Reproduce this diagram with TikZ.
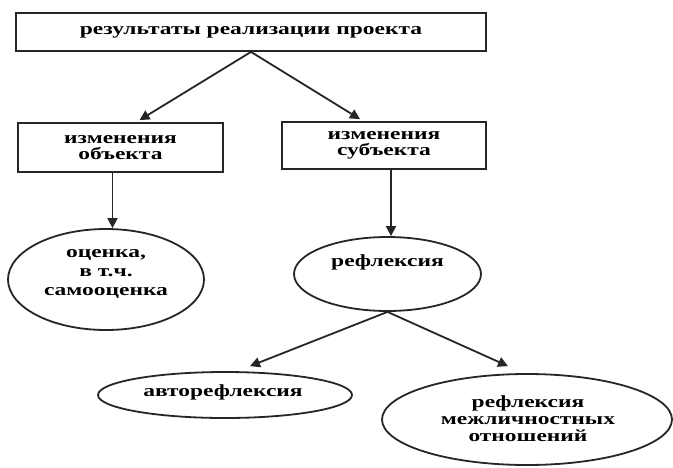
\documentclass[tikz,border=0pt]{standalone}
\usepackage{fontspec}
\setmainfont{Liberation Serif}[FakeStretch=1.38]
\usetikzlibrary{shapes.geometric,arrows.meta}
\begin{document}
\begin{tikzpicture}[x=1pt,y=-1pt,
  line/.style={draw=black!85,line width=1.8pt},
  arr/.style={line,-{Triangle[length=10pt,width=10pt]}},
  box/.style={line,rectangle,inner sep=0pt,align=center,
    font=\bfseries\fontsize{17}{16.5}\selectfont},
  oval/.style={line,ellipse,inner sep=0pt},
  txt/.style={inner sep=0pt,align=center,font=\bfseries\fontsize{17}{19}\selectfont}]
\useasboundingbox[fill=white] (0,0) rectangle (673,467);

% boxes
\node[box,minimum width=470pt,minimum height=38pt] (top) at (251,32) {результаты реализации проекта};
\node[box,minimum width=205pt,minimum height=49pt] (lbox) at (120.5,147.5) {изменения\\объекта};
\node[box,minimum width=204pt,minimum height=47pt] (rbox) at (384,145.5) {изменения\\субъекта};

% ellipses
\node[oval,minimum width=196pt,minimum height=101pt] (ocen) at (106,279.5) {};
\node[oval,minimum width=187pt,minimum height=74pt] (refl) at (387.5,274) {};
\node[oval,minimum width=254pt,minimum height=46pt] (avto) at (225,395) {};
\node[oval,minimum width=290pt,minimum height=91pt] (mezh) at (527,419.5) {};

% ellipse labels
\node[txt] (ocenT) at (106,274) {оценка,\\в т.ч.\\самооценка};
\node[txt] (reflT) at (387.5,262) {рефлексия};
\node[txt] (avtoT) at (223,392) {авторефлексия};
\node[txt,font=\bfseries\fontsize{17}{17}\selectfont] (mezhT) at (528,419) {рефлексия\\межличностных\\отношений};

% connectors
\draw[arr] (top.south) -- ([xshift=19pt,yshift=2pt]lbox.north);
\draw[arr] (top.south) -- ([xshift=-24pt,yshift=2pt]rbox.north);
\draw[arr] ([xshift=-8pt]lbox.south) -- ([xshift=-8pt]lbox.south |- ocen.north);
\draw[arr] ([xshift=7pt]rbox.south) -- ([xshift=7pt]rbox.south |- refl.north);
\draw[arr] (refl.south) -- ([xshift=25pt,yshift=5pt]avto.north);
\draw[arr] (refl.south) -- ([xshift=-19pt,yshift=7pt]mezh.north);
\end{tikzpicture}
\end{document}
